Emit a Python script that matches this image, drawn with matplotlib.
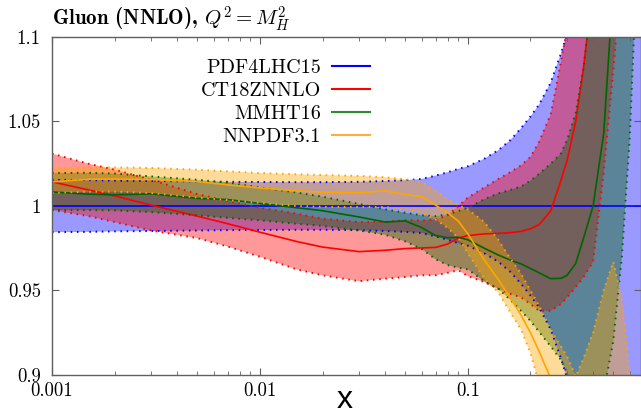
import matplotlib
matplotlib.use('Agg')
import matplotlib.pyplot as plt
from matplotlib.lines import Line2D
from matplotlib.ticker import LogLocator, NullFormatter, FixedLocator

plt.rcParams['mathtext.fontset'] = 'cm'
plt.rcParams['axes.unicode_minus'] = False

# x grid shared by all sets
x = [0.001, 0.0015, 0.002, 0.003, 0.005, 0.007, 0.01, 0.015, 0.02, 0.03,
     0.04, 0.05, 0.06, 0.07, 0.08, 0.09, 0.1, 0.12, 0.14, 0.16,
     0.18, 0.2, 0.22, 0.25, 0.28, 0.3, 0.33, 0.36, 0.4, 0.45,
     0.5, 0.55, 0.6, 0.68]

# PDF4LHC15 (reference, ratio = 1)
pdf4lhc_c = [1.0] * len(x)
pdf4lhc_lo = [0.9845, 0.9847, 0.985, 0.9852, 0.9855, 0.9857, 0.9858, 0.9859, 0.9859, 0.9857,
              0.9852, 0.9847, 0.984, 0.982, 0.980, 0.978, 0.9765, 0.972, 0.967, 0.961,
              0.954, 0.947, 0.940, 0.927, 0.91, 0.898, 0.875, 0.85, 0.81, 0.76,
              0.70, 0.64, 0.58, 0.50]
pdf4lhc_hi = [1.0155, 1.0153, 1.015, 1.0148, 1.0145, 1.0143, 1.0142, 1.0141, 1.0141, 1.0143,
              1.0148, 1.0153, 1.016, 1.018, 1.020, 1.022, 1.0235, 1.028, 1.033, 1.039,
              1.046, 1.053, 1.060, 1.073, 1.09, 1.102, 1.125, 1.15, 1.19, 1.24,
              1.30, 1.36, 1.42, 1.50]

# CT18ZNNLO
ct18_c = [1.0143, 1.0095, 1.006, 1.0005, 0.994, 0.9895, 0.9845, 0.979, 0.9757, 0.973,
          0.9738, 0.9748, 0.9752, 0.9755, 0.9775, 0.981, 0.9825, 0.9835, 0.9838, 0.9842,
          0.985, 0.9865, 0.989, 0.997, 1.015, 1.027, 1.050, 1.082, 1.13, 1.20,
          1.28, 1.36, 1.45, 1.60]
ct18_lo = [0.9976, 0.994, 0.9905, 0.9855, 0.981, 0.976, 0.970, 0.9625, 0.959, 0.9555,
           0.957, 0.958, 0.959, 0.959, 0.9605, 0.962, 0.9585, 0.955, 0.951, 0.948,
           0.946, 0.942, 0.938, 0.938, 0.942, 0.946, 0.952, 0.958, 0.967, 1.02,
           1.08, 1.14, 1.20, 1.30]
ct18_hi = [1.031, 1.025, 1.0215, 1.0155, 1.007, 1.003, 0.999, 0.9955, 0.9925, 0.9905,
           0.9906, 0.9916, 0.9914, 0.992, 0.9945, 1.000, 1.005, 1.011, 1.016, 1.020,
           1.024, 1.029, 1.038, 1.054, 1.085, 1.105, 1.14, 1.20, 1.29, 1.38,
           1.48, 1.58, 1.70, 1.90]

# MMHT16
mmht_c = [1.0083, 1.007, 1.0066, 1.0072, 1.0045, 1.0038, 1.0015, 0.999, 0.9972, 0.9935,
          0.9905, 0.9912, 0.9872, 0.9825, 0.9812, 0.9815, 0.980, 0.975, 0.971, 0.968,
          0.9658, 0.963, 0.9605, 0.957, 0.9572, 0.959, 0.966, 0.981, 1.000, 1.043,
          1.13, 1.22, 1.32, 1.50]
mmht_lo = [0.9976, 0.9976, 0.9974, 0.9964, 0.9945, 0.993, 0.9915, 0.9895, 0.9882, 0.9855,
           0.983, 0.979, 0.9745, 0.9685, 0.965, 0.9635, 0.9625, 0.9555, 0.951, 0.9445,
           0.938, 0.932, 0.9255, 0.917, 0.909, 0.901, 0.886, 0.876, 0.874, 0.89,
           0.92, 0.97, 1.04, 1.20]
mmht_hi = [1.0195, 1.0196, 1.0192, 1.0175, 1.0155, 1.0138, 1.011, 1.008, 1.0055, 1.0012,
           0.998, 0.996, 0.9945, 0.994, 0.995, 0.997, 0.999, 1.004, 1.0075, 1.0095,
           1.0115, 1.015, 1.019, 1.025, 1.031, 1.039, 1.055, 1.082, 1.13, 1.20,
           1.30, 1.40, 1.50, 1.70]

# NNPDF3.1
nnpdf_c = [1.0143, 1.0158, 1.016, 1.0157, 1.0145, 1.0125, 1.0107, 1.009, 1.0082, 1.0078,
           1.009, 1.0068, 1.0055, 1.0005, 0.996, 0.991, 0.9835, 0.968, 0.9565, 0.9455,
           0.9355, 0.925, 0.914, 0.898, 0.88, 0.87, 0.855, 0.84, 0.82, 0.80,
           0.78, 0.76, 0.74, 0.72]
nnpdf_lo = [1.0077, 1.0085, 1.0085, 1.0077, 1.005, 1.0035, 1.0018, 1.0, 0.9995, 0.9994,
            0.9994, 0.998, 0.996, 0.992, 0.987, 0.981, 0.972, 0.957, 0.949, 0.937,
            0.927, 0.913, 0.895, 0.87, 0.85, 0.84, 0.82, 0.80, 0.78, 0.75,
            0.72, 0.70, 0.68, 0.65]
nnpdf_hi = [1.0225, 1.0228, 1.0228, 1.0225, 1.0215, 1.0205, 1.0195, 1.0188, 1.0183, 1.0178,
            1.017, 1.0158, 1.0143, 1.009, 1.004, 1.0005, 0.998, 0.9905, 0.980, 0.969,
            0.960, 0.950, 0.941, 0.927, 0.917, 0.911, 0.899, 0.91, 0.925, 0.95,
            0.967, 0.945, 0.90, 0.85]

labels = ['PDF4LHC15', 'CT18ZNNLO', 'MMHT16', 'NNPDF3.1']
colors = ['#0000ff', '#ff0000', '#006600', '#ffa500']
legend_colors = ['#0000ff', '#ff0000', '#2e8b2e', '#ffae3a']
centers = [pdf4lhc_c, ct18_c, mmht_c, nnpdf_c]
lows = [pdf4lhc_lo, ct18_lo, mmht_lo, nnpdf_lo]
highs = [pdf4lhc_hi, ct18_hi, mmht_hi, nnpdf_hi]

yticks = [0.9, 0.95, 1.0, 1.05, 1.1]
ytick_labels = ['0.9', '0.95', '1', '1.05', '1.1']
xticks = [0.001, 0.01, 0.1]
xtick_labels = ['0.001', '0.01', '0.1']

fig = plt.figure(figsize=(6.41, 4.15), dpi=100)
ax = fig.add_axes([52 / 641, 40 / 415, 589 / 641, 338 / 415])

for c, lo, hi, col in zip(centers, lows, highs, colors):
    ax.plot(x, c, color=col, lw=1.2)
    ax.fill_between(x, lo, hi, color=col, alpha=0.4, lw=0)
    ax.plot(x, lo, color=col, lw=1.4, ls=(0, (0.8, 2.4)))
    ax.plot(x, hi, color=col, lw=1.4, ls=(0, (0.8, 2.4)))

ax.set_xscale('log')
ax.set_xlim(0.001, 0.68)
ax.set_ylim(0.9, 1.1)

ax.xaxis.set_major_locator(FixedLocator(xticks))
ax.set_xticks(xticks, labels=xtick_labels)
ax.xaxis.set_minor_locator(LogLocator(base=10, subs=range(2, 10)))
ax.xaxis.set_minor_formatter(NullFormatter())
ax.set_yticks(yticks, labels=ytick_labels)

ax.tick_params(which='both', direction='in', top=True, right=True,
               color='#606060', labelsize=13.5, labelfontfamily='cmr10')
ax.tick_params(which='major', length=5, width=0.8)
ax.tick_params(which='minor', length=3, width=0.6)
ax.tick_params(axis='y', pad=8)
ax.tick_params(axis='x', pad=5)
for sp in ax.spines.values():
    sp.set_color('#606060')
    sp.set_linewidth(1.0)

ax.set_title(r'Gluon (NNLO), $Q^2 = M_H^2$', loc='left', family='cmb10',
             fontsize=15, pad=8)

ax.set_xlabel('x', fontsize=23, family='Liberation Sans')
ax.xaxis.set_label_coords(0.497, -0.098)
ax.xaxis.label.set_va('baseline')

handles = [Line2D([], [], color=lc, lw=1.5) for lc in legend_colors]
ax.legend(handles, labels, loc='upper right', bbox_to_anchor=(0.540, 0.935),
          frameon=False, markerfirst=False, prop={'family': 'cmr10', 'size': 14.5},
          handlelength=1.9, handletextpad=0.55, labelspacing=0.25,
          borderpad=0, borderaxespad=0)

fig.savefig('out.png', dpi=100)
